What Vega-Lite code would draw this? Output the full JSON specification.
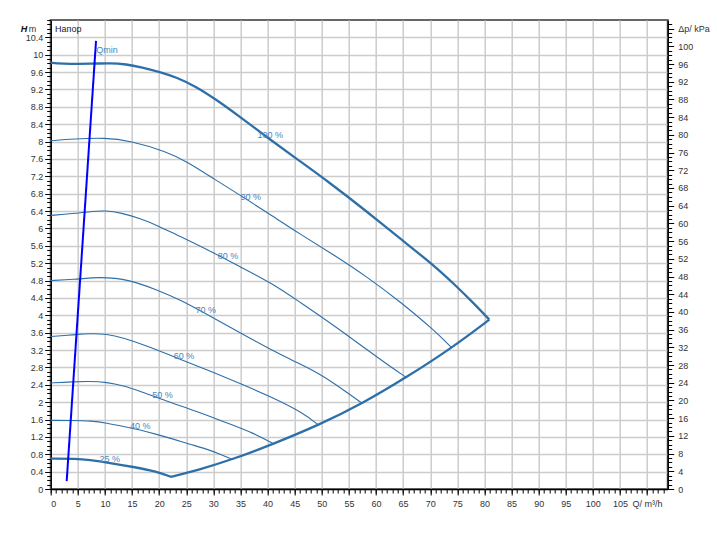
{
  "$schema": "https://vega.github.io/schema/vega-lite/v6.json",
  "width": 617,
  "height": 469,
  "autosize": {"type": "none"},
  "padding": {"left": 50.7, "top": 20, "right": 49.3, "bottom": 44},
  "background": "white",
  "config": {
    "view": {"stroke": "#666666", "strokeWidth": 2},
    "axis": {
      "labelFont": "Liberation Sans",
      "labelFontSize": 9,
      "labelColor": "#333333",
      "domainColor": "#000000",
      "domainWidth": 1.5,
      "tickColor": "#000000",
      "tickWidth": 1,
      "gridColor": "#cccccc",
      "gridWidth": 1.5
    },
    "text": {"font": "Liberation Sans", "fontSize": 9}
  },
  "datasets": {
    "curves": [
      {"curve": "100 %", "Q": 0, "H": 9.82}, {"curve": "100 %", "Q": 1.7, "H": 9.79}, {"curve": "100 %", "Q": 7.9, "H": 9.79}, {"curve": "100 %", "Q": 10.9, "H": 9.81}, {"curve": "100 %", "Q": 14, "H": 9.78}, {"curve": "100 %", "Q": 16.5, "H": 9.72}, {"curve": "100 %", "Q": 20.2, "H": 9.6}, {"curve": "100 %", "Q": 23.2, "H": 9.48}, {"curve": "100 %", "Q": 26.9, "H": 9.26}, {"curve": "100 %", "Q": 30.6, "H": 8.96}, {"curve": "100 %", "Q": 34.9, "H": 8.57}, {"curve": "100 %", "Q": 39.9, "H": 8.1}, {"curve": "100 %", "Q": 45.4, "H": 7.6}, {"curve": "100 %", "Q": 51.5, "H": 7.05}, {"curve": "100 %", "Q": 57.7, "H": 6.45}, {"curve": "100 %", "Q": 64.4, "H": 5.77}, {"curve": "100 %", "Q": 70.6, "H": 5.16}, {"curve": "100 %", "Q": 74.9, "H": 4.66}, {"curve": "100 %", "Q": 78, "H": 4.28}, {"curve": "100 %", "Q": 80.9, "H": 3.9},
      {"curve": "90 %", "Q": 0, "H": 8.02}, {"curve": "90 %", "Q": 4.2, "H": 8.06}, {"curve": "90 %", "Q": 10, "H": 8.09}, {"curve": "90 %", "Q": 14.6, "H": 8.02}, {"curve": "90 %", "Q": 21.4, "H": 7.77}, {"curve": "90 %", "Q": 25.1, "H": 7.54}, {"curve": "90 %", "Q": 30, "H": 7.15}, {"curve": "90 %", "Q": 34.9, "H": 6.77}, {"curve": "90 %", "Q": 41.1, "H": 6.27}, {"curve": "90 %", "Q": 46, "H": 5.87}, {"curve": "90 %", "Q": 52.1, "H": 5.4}, {"curve": "90 %", "Q": 58.3, "H": 4.89}, {"curve": "90 %", "Q": 64.4, "H": 4.32}, {"curve": "90 %", "Q": 70.6, "H": 3.67}, {"curve": "90 %", "Q": 74, "H": 3.25},
      {"curve": "80 %", "Q": 0, "H": 6.3}, {"curve": "80 %", "Q": 4, "H": 6.34}, {"curve": "80 %", "Q": 8, "H": 6.4}, {"curve": "80 %", "Q": 10, "H": 6.41}, {"curve": "80 %", "Q": 13, "H": 6.36}, {"curve": "80 %", "Q": 16.5, "H": 6.23}, {"curve": "80 %", "Q": 20, "H": 6.05}, {"curve": "80 %", "Q": 22.6, "H": 5.89}, {"curve": "80 %", "Q": 28.8, "H": 5.52}, {"curve": "80 %", "Q": 34.9, "H": 5.12}, {"curve": "80 %", "Q": 41.1, "H": 4.72}, {"curve": "80 %", "Q": 46, "H": 4.3}, {"curve": "80 %", "Q": 52.1, "H": 3.78}, {"curve": "80 %", "Q": 58.3, "H": 3.21}, {"curve": "80 %", "Q": 62.6, "H": 2.82}, {"curve": "80 %", "Q": 65.6, "H": 2.57},
      {"curve": "70 %", "Q": 0, "H": 4.8}, {"curve": "70 %", "Q": 4.2, "H": 4.82}, {"curve": "70 %", "Q": 9.1, "H": 4.89}, {"curve": "70 %", "Q": 14.6, "H": 4.82}, {"curve": "70 %", "Q": 19.5, "H": 4.59}, {"curve": "70 %", "Q": 23.9, "H": 4.36}, {"curve": "70 %", "Q": 30, "H": 3.94}, {"curve": "70 %", "Q": 36.2, "H": 3.51}, {"curve": "70 %", "Q": 42.3, "H": 3.1}, {"curve": "70 %", "Q": 46, "H": 2.88}, {"curve": "70 %", "Q": 49.7, "H": 2.64}, {"curve": "70 %", "Q": 52.1, "H": 2.45}, {"curve": "70 %", "Q": 57.5, "H": 1.97},
      {"curve": "60 %", "Q": 0, "H": 3.51}, {"curve": "60 %", "Q": 4.2, "H": 3.55}, {"curve": "60 %", "Q": 7.2, "H": 3.58}, {"curve": "60 %", "Q": 10.3, "H": 3.57}, {"curve": "60 %", "Q": 13.4, "H": 3.48}, {"curve": "60 %", "Q": 17.7, "H": 3.3}, {"curve": "60 %", "Q": 22.6, "H": 3.05}, {"curve": "60 %", "Q": 28.8, "H": 2.75}, {"curve": "60 %", "Q": 34.9, "H": 2.43}, {"curve": "60 %", "Q": 41.1, "H": 2.1}, {"curve": "60 %", "Q": 46.6, "H": 1.75}, {"curve": "60 %", "Q": 49.4, "H": 1.47},
      {"curve": "50 %", "Q": 0, "H": 2.44}, {"curve": "50 %", "Q": 4.2, "H": 2.47}, {"curve": "50 %", "Q": 7.2, "H": 2.48}, {"curve": "50 %", "Q": 10.3, "H": 2.46}, {"curve": "50 %", "Q": 13.4, "H": 2.38}, {"curve": "50 %", "Q": 16.5, "H": 2.25}, {"curve": "50 %", "Q": 21.4, "H": 2.02}, {"curve": "50 %", "Q": 26.9, "H": 1.79}, {"curve": "50 %", "Q": 32.5, "H": 1.52}, {"curve": "50 %", "Q": 37.4, "H": 1.29}, {"curve": "50 %", "Q": 41.1, "H": 1.04},
      {"curve": "40 %", "Q": 0, "H": 1.58}, {"curve": "40 %", "Q": 4, "H": 1.58}, {"curve": "40 %", "Q": 7.5, "H": 1.57}, {"curve": "40 %", "Q": 10.3, "H": 1.52}, {"curve": "40 %", "Q": 13.5, "H": 1.44}, {"curve": "40 %", "Q": 16.5, "H": 1.36}, {"curve": "40 %", "Q": 19.5, "H": 1.26}, {"curve": "40 %", "Q": 22.6, "H": 1.15}, {"curve": "40 %", "Q": 25.7, "H": 1.03}, {"curve": "40 %", "Q": 28.8, "H": 0.92}, {"curve": "40 %", "Q": 31.3, "H": 0.8}, {"curve": "40 %", "Q": 33.5, "H": 0.68},
      {"curve": "25 %", "Q": 0, "H": 0.7}, {"curve": "25 %", "Q": 4.8, "H": 0.7}, {"curve": "25 %", "Q": 7, "H": 0.67}, {"curve": "25 %", "Q": 10.9, "H": 0.6}, {"curve": "25 %", "Q": 15.2, "H": 0.51}, {"curve": "25 %", "Q": 19.6, "H": 0.4}, {"curve": "25 %", "Q": 22.2, "H": 0.28},
      {"curve": "min", "Q": 22.2, "H": 0.28}, {"curve": "min", "Q": 27.5, "H": 0.45}, {"curve": "min", "Q": 33.5, "H": 0.68}, {"curve": "min", "Q": 41.1, "H": 1.04}, {"curve": "min", "Q": 49.4, "H": 1.47}, {"curve": "min", "Q": 57.5, "H": 1.97}, {"curve": "min", "Q": 65.6, "H": 2.57}, {"curve": "min", "Q": 74, "H": 3.25}, {"curve": "min", "Q": 80.9, "H": 3.9}
    ],
    "labels": [
      {"label": "100 %", "Q": 40.5, "H": 8.15},
      {"label": "90 %", "Q": 36.9, "H": 6.72},
      {"label": "80 %", "Q": 32.7, "H": 5.37},
      {"label": "70 %", "Q": 28.6, "H": 4.13},
      {"label": "60 %", "Q": 24.6, "H": 3.06},
      {"label": "50 %", "Q": 20.6, "H": 2.17},
      {"label": "40 %", "Q": 16.5, "H": 1.44},
      {"label": "25 %", "Q": 10.9, "H": 0.7},
      {"label": "Qmin", "Q": 10.4, "H": 10.12}
    ],
    "qmin": [
      {"Q": 2.95, "H": 0.18},
      {"Q": 8.36, "H": 10.32}
    ],
    "heading": [{"label": "Напор", "Q": 0.8, "H": 10.6}],
    "origin": [{"Q": 0, "H": 0, "dp": 0}]
  },
  "resolve": {
    "scale": {"y": "independent"},
    "axis": {"x": "independent", "y": "independent"}
  },
  "layer": [
    {
      "data": {"name": "curves"},
      "transform": [{"filter": "indexof(['100 %', '25 %', 'min'], datum.curve) < 0"}],
      "mark": {"type": "line", "interpolate": "basis", "color": "#2d6fa8", "strokeWidth": 1.1},
      "encoding": {
        "x": {
          "field": "Q", "type": "quantitative",
          "scale": {"domain": [0, 113.8], "nice": false, "zero": false},
          "axis": {
            "orient": "bottom", "title": null, "grid": true, "tickSize": 6, "labelPadding": 4,
            "values": [0, 5, 10, 15, 20, 25, 30, 35, 40, 45, 50, 55, 60, 65, 70, 75, 80, 85, 90, 95, 100, 105, 110],
            "labelExpr": "datum.value == 110 ? 'Q/ m³/h' : datum.label"
          }
        },
        "y": {
          "field": "H", "type": "quantitative",
          "scale": {"domain": [0, 10.8], "nice": false, "zero": false},
          "axis": {
            "orient": "left", "title": null, "grid": true, "tickSize": 6, "labelPadding": 2, "format": "~g",
            "values": [0, 0.4, 0.8, 1.2, 1.6, 2, 2.4, 2.8, 3.2, 3.6, 4, 4.4, 4.8, 5.2, 5.6, 6, 6.4, 6.8, 7.2, 7.6, 8, 8.4, 8.8, 9.2, 9.6, 10, 10.4]
          }
        },
        "detail": {"field": "curve", "type": "nominal"}
      }
    },
    {
      "data": {"name": "curves"},
      "transform": [{"filter": "indexof(['100 %', '25 %', 'min'], datum.curve) >= 0"}],
      "mark": {"type": "line", "interpolate": "basis", "color": "#2d6fa8", "strokeWidth": 2.3},
      "encoding": {
        "x": {"field": "Q", "type": "quantitative", "axis": null},
        "y": {"field": "H", "type": "quantitative", "scale": {"domain": [0, 10.8], "nice": false, "zero": false}, "axis": null},
        "detail": {"field": "curve", "type": "nominal"}
      }
    },
    {
      "data": {"name": "origin"},
      "mark": {"type": "point", "opacity": 0},
      "encoding": {
        "x": {
          "field": "Q", "type": "quantitative",
          "axis": {"orient": "bottom", "title": null, "tickCount": 114, "labels": false, "grid": false, "domain": false, "tickSize": 4}
        },
        "y": {
          "field": "H", "type": "quantitative",
          "scale": {"domain": [0, 10.8], "nice": false, "zero": false},
          "axis": {"orient": "left", "title": null, "tickCount": 108, "labels": false, "grid": false, "domain": false, "tickSize": 4}
        }
      }
    },
    {
      "data": {"name": "origin"},
      "mark": {"type": "point", "opacity": 0},
      "encoding": {
        "x": {"field": "Q", "type": "quantitative", "axis": null},
        "y": {
          "field": "H", "type": "quantitative",
          "scale": {"domain": [0, 10.8], "nice": false, "zero": false},
          "axis": {"orient": "left", "title": null, "values": [10.6], "labelExpr": "'m'", "ticks": false, "grid": false, "domain": false, "labelPadding": 15}
        }
      }
    },
    {
      "data": {"name": "origin"},
      "mark": {"type": "point", "opacity": 0},
      "encoding": {
        "x": {"field": "Q", "type": "quantitative", "axis": null},
        "y": {
          "field": "H", "type": "quantitative",
          "scale": {"domain": [0, 10.8], "nice": false, "zero": false},
          "axis": {"orient": "left", "title": null, "values": [10.6], "labelExpr": "'H'", "ticks": false, "grid": false, "domain": false, "labelPadding": 24, "labelFontStyle": "italic", "labelFontWeight": "bold", "labelColor": "#111111"}
        }
      }
    },
    {
      "data": {"name": "origin"},
      "mark": {"type": "point", "opacity": 0},
      "encoding": {
        "x": {"field": "Q", "type": "quantitative", "axis": null},
        "y": {
          "field": "dp", "type": "quantitative",
          "scale": {"domain": [0, 105.95], "nice": false, "zero": false},
          "axis": {
            "orient": "right", "title": null, "grid": false, "tickSize": 6, "labelPadding": 4,
            "values": [0, 4, 8, 12, 16, 20, 24, 28, 32, 36, 40, 44, 48, 52, 56, 60, 64, 68, 72, 76, 80, 84, 88, 92, 96, 100, 104],
            "labelExpr": "datum.value == 104 ? 'Δp/ kPa' : datum.label"
          }
        }
      }
    },
    {
      "data": {"name": "origin"},
      "mark": {"type": "point", "opacity": 0},
      "encoding": {
        "x": {"field": "Q", "type": "quantitative", "axis": null},
        "y": {
          "field": "dp", "type": "quantitative",
          "scale": {"domain": [0, 105.95], "nice": false, "zero": false},
          "axis": {"orient": "right", "title": null, "tickCount": 106, "labels": false, "grid": false, "domain": false, "tickSize": 4}
        }
      }
    },
    {
      "data": {"name": "qmin"},
      "mark": {"type": "line", "color": "#0000ff", "strokeWidth": 2},
      "encoding": {
        "x": {"field": "Q", "type": "quantitative", "axis": null},
        "y": {"field": "H", "type": "quantitative", "scale": {"domain": [0, 10.8], "nice": false, "zero": false}, "axis": null}
      }
    },
    {
      "data": {"name": "labels"},
      "mark": {"type": "text", "color": "#4a84bd", "align": "center", "baseline": "middle"},
      "encoding": {
        "x": {"field": "Q", "type": "quantitative", "axis": null},
        "y": {"field": "H", "type": "quantitative", "scale": {"domain": [0, 10.8], "nice": false, "zero": false}, "axis": null},
        "text": {"field": "label"}
      }
    },
    {
      "data": {"name": "heading"},
      "mark": {"type": "text", "color": "#222222", "align": "left", "baseline": "middle"},
      "encoding": {
        "x": {"field": "Q", "type": "quantitative", "axis": null},
        "y": {"field": "H", "type": "quantitative", "scale": {"domain": [0, 10.8], "nice": false, "zero": false}, "axis": null},
        "text": {"field": "label"}
      }
    }
  ]
}
